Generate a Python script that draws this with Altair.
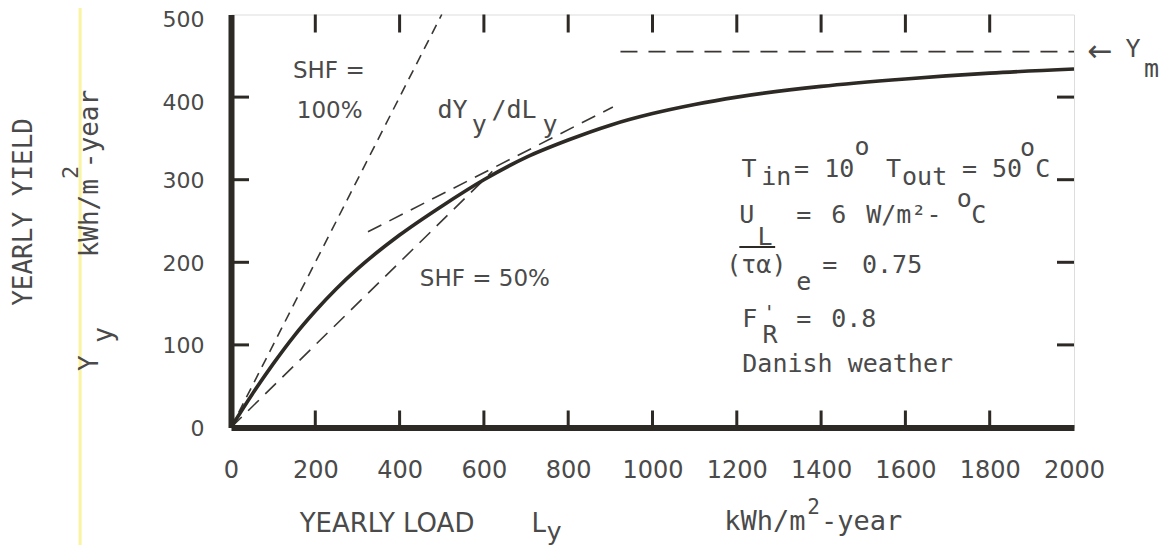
import altair as alt
import pandas as pd

# ---------------- data ----------------
# main curve: yearly yield Y_y versus yearly load L_y (kWh/m2-year)
load_L = [0, 50, 100, 150, 200, 250, 300, 400, 500, 600, 700, 800, 900, 1000,
          1100, 1200, 1400, 1600, 1800, 2000]
yield_Y = [0, 40, 77, 111, 141, 168, 192, 233, 268, 300, 327, 348, 366, 380,
           391, 400, 413, 422, 429, 434]

# reference lines
shf100_L = [0, 500]
shf100_Y = [0, 500]
shf50_L = [0, 620]
shf50_Y = [0, 310]
tangent_L = [325, 906]
tangent_Y = [237, 388]
ym_L = [924, 2000]
ym_Y = [455, 455]

# axis ticks
x_tick_labels = [0, 200, 400, 600, 800, 1000, 1200, 1400, 1600, 1800, 2000]
y_tick_labels = [0, 100, 200, 300, 400, 500]
x_inner_ticks = [200, 400, 600, 800, 1000, 1200, 1400, 1600, 1800]
y_inner_ticks = [100, 200, 300, 400]

# annotation texts (text, L, Y) in data units
sans_rows = [("SHF =", 147, 423), ("100%", 156, 375), ("SHF = 50%", 448, 171)]
mono_rows = [
    ("dY", 490, 375), ("y", 571, 356), ("/dL", 618, 375), ("y", 739, 356),
    ("T", 1211, 303), ("in", 1258, 293), ("= 10", 1336, 303), ("o", 1479, 330),
    ("T", 1554, 303), ("out", 1592, 293), ("= 50", 1734, 303), ("o", 1872, 329),
    ("C", 1908, 303),
    ("U", 1206, 248), ("L", 1249, 221), ("=", 1341, 248), ("6", 1424, 248),
    ("W/m²-", 1507, 248), ("o", 1722, 267), ("C", 1756, 248),
    ("(τα)", 1175, 187), ("e", 1341, 166), ("=", 1403, 187), ("0.75", 1497, 187),
    ("F", 1213, 122), ("R", 1261, 102), ("=", 1341, 122),
    ("0.8", 1424, 122),
    ("Danish weather", 1213, 67),
    ("Y", 2122, 448), ("m", 2166, 424),
]
prime_rows = [("'", 1263, 131)]
overline_L = [1206, 1291]
overline_Y = [218.5, 218.5]
arrow_rows = [("←", 2062, 455)]
xtitle_sans_rows = [("YEARLY LOAD", 163, -126), ("L", 713, -126)]
xtitle_sub_rows = [("y", 749, -136)]
xtitle_mono_rows = [("kWh/m", 1170, -124), ("-year", 1400, -124)]
xtitle_sup_rows = [("2", 1367, -105)]
ytitle_big_rows = [("YEARLY YIELD", -491, 261)]
ytitle_left_rows = [("kWh/m", -334, 206), ("-year", -334, 314)]
ytitle_center_rows = [("Y", -335, 78), ("y", -301, 112)]
ytitle_sup_rows = [("2", -380, 309)]
scan_mark_L = [-358]

# ---------------- styling ----------------
W, H = 843, 413
INK = "#2d2925"
DASH = "#3a3633"
TXT = "#4a4a4a"
SANS = "DejaVu Sans"
MONO = "DejaVu Sans Mono"

x_scale = alt.Scale(domain=[0, 2000], nice=False, zero=False)
y_scale = alt.Scale(domain=[0, 500], nice=False, zero=False)
x_axis = alt.Axis(values=x_tick_labels, format="d", title=None, grid=False, ticks=False,
                  tickSize=0, domainColor=INK, domainWidth=6, labelFont=SANS,
                  labelFontSize=24, labelColor=TXT, labelPadding=31, labelFlush=False,
                  labelOverlap=False)
y_axis = alt.Axis(values=y_tick_labels, format="d", title=None, grid=False, ticks=False,
                  tickSize=0, domainColor=INK, domainWidth=6, labelFont=SANS,
                  labelFontSize=22, labelColor=TXT, labelPadding=27,
                  labelOffset={"condition": {"test": "datum.value >= 400", "value": 5},
                               "value": 1},
                  labelOverlap=False, labelFlush=False)
XE = alt.X("L:Q", scale=x_scale, axis=x_axis)
YE = alt.Y("Y:Q", scale=y_scale, axis=y_axis)


def line(Ls, Ys, **kw):
    return alt.Chart(pd.DataFrame({"L": Ls, "Y": Ys})).mark_line(**kw).encode(x=XE, y=YE)


def txt(rows, **kw):
    df = pd.DataFrame(rows, columns=["text", "L", "Y"])
    return alt.Chart(df).mark_text(**kw).encode(x=XE, y=YE, text="text:N")


scan = alt.Chart(pd.DataFrame({"L": scan_mark_L})).mark_rule(
    color="#fbf3a0", strokeWidth=3).encode(x=XE, y=alt.value(-16), y2=alt.value(H + 130))

layers = [
    scan,
    line(shf100_L, shf100_Y, color=DASH, strokeWidth=1.6, strokeDash=[10, 7]),
    line(shf50_L, shf50_Y, color=DASH, strokeWidth=1.6, strokeDash=[15, 9]),
    line(tangent_L, tangent_Y, color=DASH, strokeWidth=1.6, strokeDash=[15, 9]),
    line(ym_L, ym_Y, color=DASH, strokeWidth=1.6, strokeDash=[17, 11]),
    line(overline_L, overline_Y, color=INK, strokeWidth=2),
    line(load_L, yield_Y, color=INK, strokeWidth=3.6, interpolate="monotone"),
    alt.Chart(pd.DataFrame({"L": x_inner_ticks})).mark_rule(color=INK, strokeWidth=3).encode(
        x=XE, y=alt.value(H), y2=alt.value(H - 17)),
    alt.Chart(pd.DataFrame({"L": x_inner_ticks})).mark_rule(color=INK, strokeWidth=3).encode(
        x=XE, y=alt.value(0), y2=alt.value(18)),
    alt.Chart(pd.DataFrame({"Y": y_inner_ticks})).mark_rule(color=INK, strokeWidth=3).encode(
        y=YE, x=alt.value(0), x2=alt.value(18)),
    alt.Chart(pd.DataFrame({"Y": y_inner_ticks})).mark_rule(color=INK, strokeWidth=3).encode(
        y=YE, x=alt.value(W), x2=alt.value(W - 17)),
    txt(sans_rows, font=SANS, fontSize=23, color=TXT, align="left", baseline="alphabetic"),
    txt(mono_rows, font=MONO, fontSize=25, color=TXT, align="left", baseline="alphabetic"),
    txt(prime_rows, font=MONO, fontSize=20, color=TXT, align="left", baseline="alphabetic"),
    txt(arrow_rows, font=SANS, fontSize=30, color=TXT, align="center", baseline="middle"),
    txt(xtitle_sans_rows, font=SANS, fontSize=26, color=TXT, align="left", baseline="alphabetic"),
    txt(xtitle_sub_rows, font=SANS, fontSize=25, color=TXT, align="left", baseline="alphabetic"),
    txt(xtitle_mono_rows, font=MONO, fontSize=27, color=TXT, align="left", baseline="alphabetic"),
    txt(xtitle_sup_rows, font=MONO, fontSize=21, color=TXT, align="left", baseline="alphabetic"),
    txt(ytitle_big_rows, font=MONO, fontSize=26, color=TXT, align="center", baseline="middle", angle=270),
    txt(ytitle_left_rows, font=MONO, fontSize=26, color=TXT, align="left", baseline="middle", angle=270),
    txt(ytitle_center_rows, font=MONO, fontSize=26, color=TXT, align="center", baseline="middle", angle=270),
    txt(ytitle_sup_rows, font=MONO, fontSize=22, color=TXT, align="center", baseline="middle", angle=270),
]

chart = alt.layer(*layers).properties(
    width=W, height=H,
    padding={"left": 223, "top": 6.5, "right": 87, "bottom": 117},
    autosize=alt.AutoSizeParams(type="none"),
).configure_view(stroke=INK, strokeWidth=4).configure(background="white")

chart.save("out.html", embed_options={"renderer": "svg", "actions": False})
